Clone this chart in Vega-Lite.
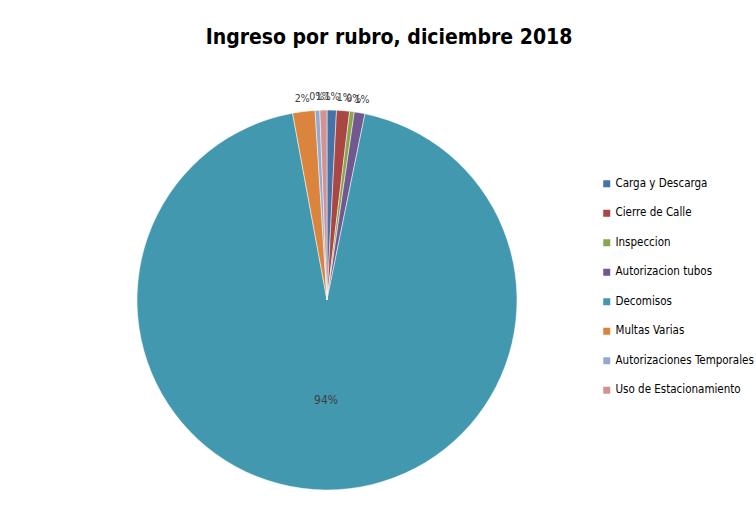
{
  "$schema": "https://vega.github.io/schema/vega-lite/v6.json",
  "autosize": {"type": "none"},
  "width": 400,
  "height": 400,
  "padding": {"left": 127, "top": 100, "right": 229, "bottom": 6},
  "background": "white",
  "title": {
    "text": "Ingreso por rubro, diciembre 2018",
    "font": "DejaVu Sans Condensed",
    "fontSize": 21,
    "fontWeight": "bold",
    "color": "#000000",
    "anchor": "middle",
    "dx": 62,
    "offset": 44
  },
  "data": {
    "values": [
      {"rubro": "Carga y Descarga", "orden": 1, "valor": 0.008},
      {"rubro": "Cierre de Calle", "orden": 2, "valor": 0.011},
      {"rubro": "Inspeccion", "orden": 3, "valor": 0.004},
      {"rubro": "Autorizacion tubos", "orden": 4, "valor": 0.009},
      {"rubro": "Decomisos", "orden": 5, "valor": 0.939},
      {"rubro": "Multas Varias", "orden": 6, "valor": 0.019},
      {"rubro": "Autorizaciones Temporales", "orden": 7, "valor": 0.004},
      {"rubro": "Uso de Estacionamiento", "orden": 8, "valor": 0.006}
    ]
  },
  "encoding": {
    "theta": {"field": "valor", "type": "quantitative", "stack": true},
    "order": {"field": "orden", "type": "quantitative"}
  },
  "layer": [
    {
      "mark": {"type": "arc", "outerRadius": 190, "stroke": "white", "strokeWidth": 0.5},
      "encoding": {
        "color": {
          "field": "rubro",
          "type": "nominal",
          "scale": {
            "domain": ["Carga y Descarga", "Cierre de Calle", "Inspeccion", "Autorizacion tubos", "Decomisos", "Multas Varias", "Autorizaciones Temporales", "Uso de Estacionamiento"],
            "range": ["#4572A7", "#AA4643", "#89A54E", "#71588F", "#4198AF", "#DB843D", "#93A9CF", "#D19392"]
          },
          "legend": {
            "title": null,
            "orient": "none",
            "legendX": 474,
            "legendY": 78,
            "symbolType": "square",
            "symbolSize": 49,
            "symbolStrokeWidth": 0,
            "labelFont": "DejaVu Sans Condensed",
            "labelFontSize": 11.5,
            "labelColor": "#000000",
            "rowPadding": 16.5,
            "labelOffset": 3,
            "labelLimit": 200
          }
        }
      }
    },
    {
      "mark": {"type": "text", "radius": 203, "font": "DejaVu Sans Condensed", "fontSize": 10.5, "color": "#404040"},
      "encoding": {
        "text": {
          "condition": {"test": "datum.rubro === 'Decomisos'", "value": ""},
          "field": "valor", "type": "quantitative", "format": ".0%"
        }
      }
    },
    {
      "mark": {"type": "text", "radius": 100, "font": "DejaVu Sans Condensed", "fontSize": 12, "color": "#404040"},
      "encoding": {
        "text": {
          "condition": {"test": "datum.rubro !== 'Decomisos'", "value": ""},
          "field": "valor", "type": "quantitative", "format": ".0%"
        }
      }
    }
  ]
}
